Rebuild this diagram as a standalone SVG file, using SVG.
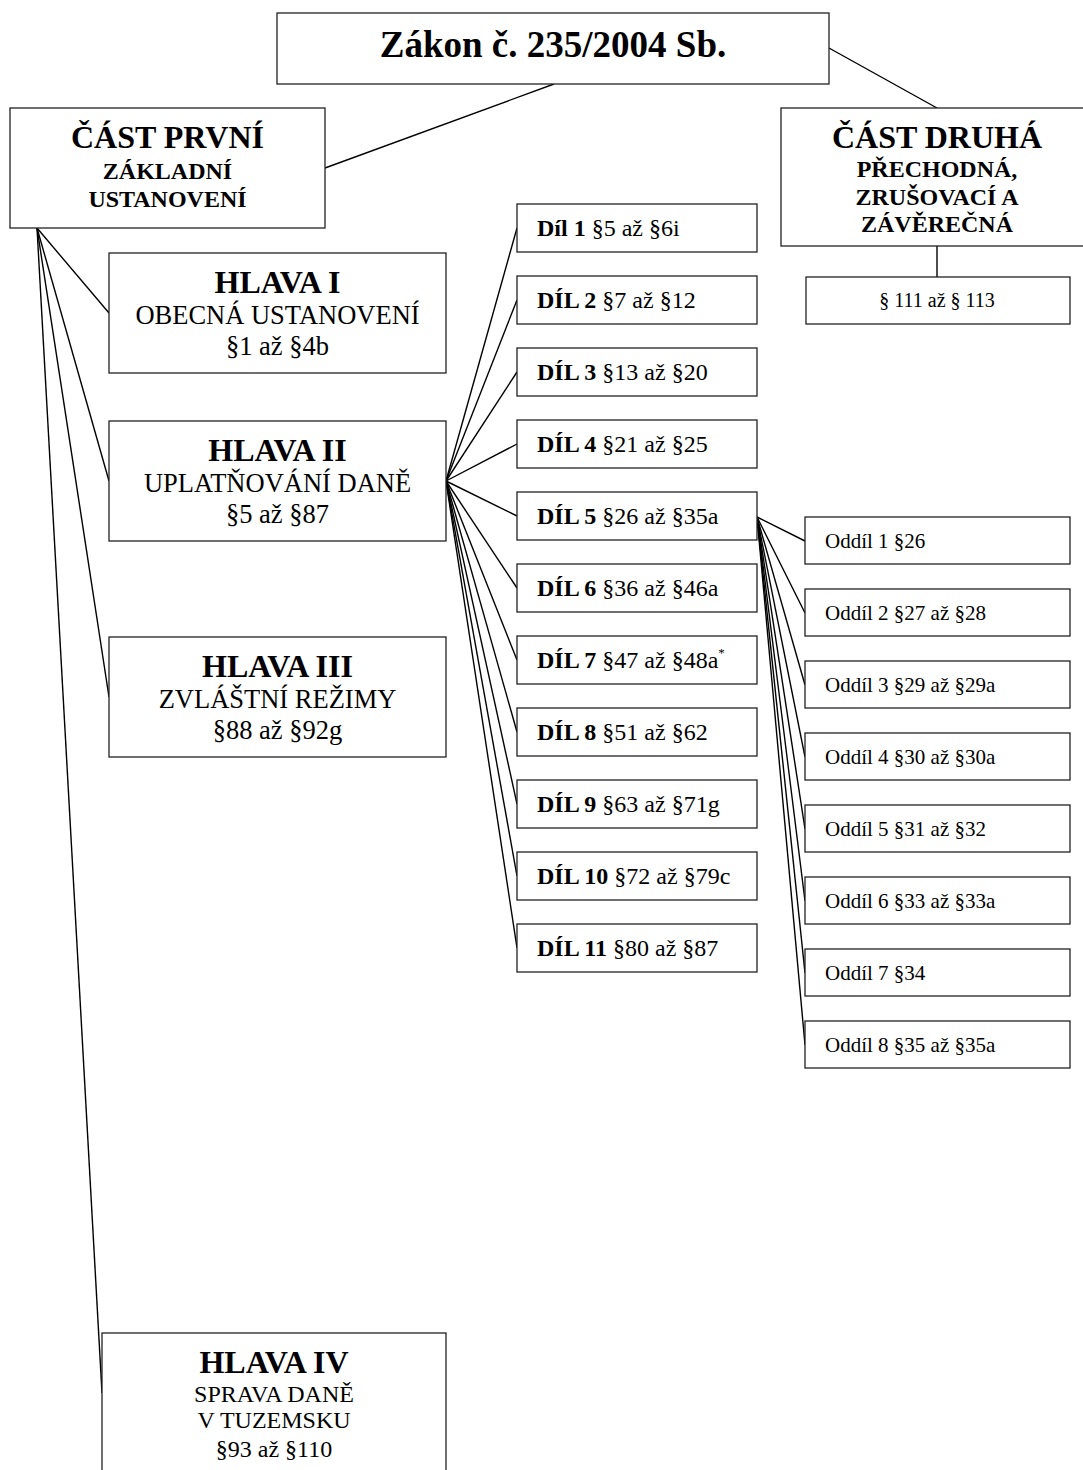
<svg xmlns="http://www.w3.org/2000/svg" width="1083" height="1470" viewBox="0 0 1083 1470">
<style>
rect{fill:#fff;stroke:#222;stroke-width:1.3}
line{stroke:#000;stroke-width:1.4}
text{font-family:"Liberation Serif","Times New Roman",serif;fill:#000}
.c{text-anchor:middle}
.b{font-weight:bold}
.h32{font-size:32px;font-weight:bold}
.s24b{font-size:24px;font-weight:bold}
.s26{font-size:26.5px}
.s24{font-size:24px}
.d{font-size:24px}
.o{font-size:21px}
</style>
<rect x="0" y="0" width="1083" height="1470" style="fill:#fff;stroke:none"/>
<g id="connectors">
<line x1="554" y1="84" x2="325" y2="168"/>
<line x1="829" y1="48" x2="937" y2="108"/>
<line x1="937" y1="246" x2="937" y2="277"/>
<line x1="37" y1="228" x2="109" y2="313"/>
<line x1="37" y1="228" x2="109" y2="481"/>
<line x1="37" y1="228" x2="109" y2="697"/>
<line x1="37" y1="228" x2="102" y2="1393"/>
<line x1="446" y1="481" x2="517" y2="228"/>
<line x1="446" y1="481" x2="517" y2="300"/>
<line x1="446" y1="481" x2="517" y2="372"/>
<line x1="446" y1="481" x2="517" y2="444"/>
<line x1="446" y1="481" x2="517" y2="516"/>
<line x1="446" y1="481" x2="517" y2="588"/>
<line x1="446" y1="481" x2="517" y2="660"/>
<line x1="446" y1="481" x2="517" y2="732"/>
<line x1="446" y1="481" x2="517" y2="804"/>
<line x1="446" y1="481" x2="517" y2="876"/>
<line x1="446" y1="481" x2="517" y2="948"/>
<line x1="757" y1="517" x2="805" y2="541"/>
<line x1="757" y1="517" x2="805" y2="613"/>
<line x1="757" y1="517" x2="805" y2="685"/>
<line x1="757" y1="517" x2="805" y2="757"/>
<line x1="757" y1="517" x2="805" y2="829"/>
<line x1="757" y1="517" x2="805" y2="901"/>
<line x1="757" y1="517" x2="805" y2="973"/>
<line x1="757" y1="517" x2="805" y2="1045"/>
</g>
<g id="zakon">
<rect x="277" y="13" width="552" height="71"/>
<text x="553" y="57" class="c b" font-size="37">Zákon č. 235/2004 Sb.</text>
</g>
<g id="cast-prvni">
<rect x="10" y="108" width="315" height="120"/>
<text x="167.5" y="148" class="c h32">ČÁST PRVNÍ</text>
<text x="167.5" y="179" class="c s24b">ZÁKLADNÍ</text>
<text x="167.5" y="207" class="c s24b">USTANOVENÍ</text>
</g>
<g id="cast-druha">
<rect x="781" y="108" width="320" height="138"/>
<text x="937" y="148" class="c h32">ČÁST DRUHÁ</text>
<text x="937" y="177" class="c s24b">PŘECHODNÁ,</text>
<text x="937" y="205" class="c s24b">ZRUŠOVACÍ A</text>
<text x="937" y="232" class="c s24b">ZÁVĚREČNÁ</text>
</g>
<g id="par111">
<rect x="806" y="277" width="264" height="47"/>
<text x="937" y="307" class="c" font-size="20">§ 111 až § 113</text>
</g>
<g id="hlava1">
<rect x="109" y="253" width="337" height="120"/>
<text x="277.5" y="293" class="c h32">HLAVA I</text>
<text x="277.5" y="324" class="c s26">OBECNÁ USTANOVENÍ</text>
<text x="277.5" y="355" class="c s26">§1 až §4b</text>
</g>
<g id="hlava2">
<rect x="109" y="421" width="337" height="120"/>
<text x="277.5" y="461" class="c h32">HLAVA II</text>
<text x="277.5" y="492" class="c s26">UPLATŇOVÁNÍ DANĚ</text>
<text x="277.5" y="523" class="c s26">§5 až §87</text>
</g>
<g id="hlava3">
<rect x="109" y="637" width="337" height="120"/>
<text x="277.5" y="677" class="c h32">HLAVA III</text>
<text x="277.5" y="708" class="c s26">ZVLÁŠTNÍ REŽIMY</text>
<text x="277.5" y="739" class="c s26">§88 až §92g</text>
</g>
<g id="hlava4">
<rect x="102" y="1333" width="344" height="150"/>
<text x="274" y="1373" class="c h32">HLAVA IV</text>
<text x="274" y="1402" class="c s24">SPRAVA DANĚ</text>
<text x="274" y="1428" class="c s24">V TUZEMSKU</text>
<text x="274" y="1457" class="c s24">§93 až §110</text>
</g>
<g id="dil1"><rect x="517" y="204" width="240" height="48"/><text x="537" y="236" class="d"><tspan class="b">Díl 1</tspan> §5 až §6i</text></g>
<g id="dil2"><rect x="517" y="276" width="240" height="48"/><text x="537" y="308" class="d"><tspan class="b">DÍL 2</tspan> §7 až §12</text></g>
<g id="dil3"><rect x="517" y="348" width="240" height="48"/><text x="537" y="380" class="d"><tspan class="b">DÍL 3</tspan> §13 až §20</text></g>
<g id="dil4"><rect x="517" y="420" width="240" height="48"/><text x="537" y="452" class="d"><tspan class="b">DÍL 4</tspan> §21 až §25</text></g>
<g id="dil5"><rect x="517" y="492" width="240" height="48"/><text x="537" y="524" class="d"><tspan class="b">DÍL 5</tspan> §26 až §35a</text></g>
<g id="dil6"><rect x="517" y="564" width="240" height="48"/><text x="537" y="596" class="d"><tspan class="b">DÍL 6</tspan> §36 až §46a</text></g>
<g id="dil7"><rect x="517" y="636" width="240" height="48"/><text x="537" y="668" class="d"><tspan class="b">DÍL 7</tspan> §47 až §48a<tspan font-size="13" dy="-11">*</tspan></text></g>
<g id="dil8"><rect x="517" y="708" width="240" height="48"/><text x="537" y="740" class="d"><tspan class="b">DÍL 8</tspan> §51 až §62</text></g>
<g id="dil9"><rect x="517" y="780" width="240" height="48"/><text x="537" y="812" class="d"><tspan class="b">DÍL 9</tspan> §63 až §71g</text></g>
<g id="dil10"><rect x="517" y="852" width="240" height="48"/><text x="537" y="884" class="d"><tspan class="b">DÍL 10</tspan> §72 až §79c</text></g>
<g id="dil11"><rect x="517" y="924" width="240" height="48"/><text x="537" y="956" class="d"><tspan class="b">DÍL 11</tspan> §80 až §87</text></g>
<g id="oddil1"><rect x="805" y="517" width="265" height="47"/><text x="825" y="548" class="o">Oddíl 1 §26</text></g>
<g id="oddil2"><rect x="805" y="589" width="265" height="47"/><text x="825" y="620" class="o">Oddíl 2 §27 až §28</text></g>
<g id="oddil3"><rect x="805" y="661" width="265" height="47"/><text x="825" y="692" class="o">Oddíl 3 §29 až §29a</text></g>
<g id="oddil4"><rect x="805" y="733" width="265" height="47"/><text x="825" y="764" class="o">Oddíl 4 §30 až §30a</text></g>
<g id="oddil5"><rect x="805" y="805" width="265" height="47"/><text x="825" y="836" class="o">Oddíl 5 §31 až §32</text></g>
<g id="oddil6"><rect x="805" y="877" width="265" height="47"/><text x="825" y="908" class="o">Oddíl 6 §33 až §33a</text></g>
<g id="oddil7"><rect x="805" y="949" width="265" height="47"/><text x="825" y="980" class="o">Oddíl 7 §34</text></g>
<g id="oddil8"><rect x="805" y="1021" width="265" height="47"/><text x="825" y="1052" class="o">Oddíl 8 §35 až §35a</text></g>
</svg>
